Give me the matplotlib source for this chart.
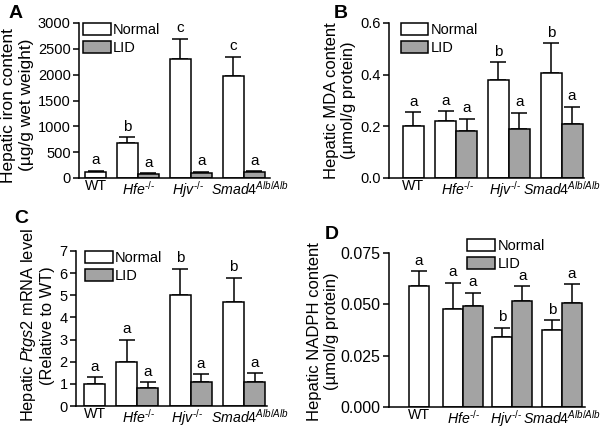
import matplotlib
matplotlib.use("Agg")
import matplotlib.pyplot as plt
from matplotlib.patches import Patch

plt.rcParams['font.family'] = ['Liberation Sans', 'DejaVu Sans']
plt.rcParams['mathtext.fontset'] = 'custom'
plt.rcParams['mathtext.rm'] = 'Liberation Sans'
plt.rcParams['mathtext.it'] = 'Liberation Sans:italic'
plt.rcParams['mathtext.bf'] = 'Liberation Sans:bold'

# ---------------- data ----------------
HY = '\u2010'
groups = ['WT',
          r'$\mathit{Hfe}^{\mathit{%s/%s}}$' % (HY, HY),
          r'$\mathit{Hjv}^{\mathit{%s/%s}}$' % (HY, HY),
          r'$\mathit{Smad4}^{\mathit{Alb/Alb}}$']

# Panel A: hepatic iron content
iron_normal = [115, 680, 2300, 1970]
iron_normal_err = [25, 110, 400, 380]
iron_lid = [None, 80, 105, 115]
iron_lid_err = [None, 8, 12, 12]
iron_letters_normal = ['a', 'b', 'c', 'c']
iron_letters_lid = [None, 'a', 'a', 'a']

# Panel B: MDA
mda_normal = [0.200, 0.222, 0.378, 0.405]
mda_normal_err = [0.055, 0.037, 0.071, 0.117]
mda_lid = [None, 0.180, 0.190, 0.210]
mda_lid_err = [None, 0.050, 0.062, 0.065]
mda_letters_normal = ['a', 'a', 'b', 'b']
mda_letters_lid = [None, 'a', 'a', 'a']

# Panel C: Ptgs2 mRNA
ptgs_normal = [1.0, 2.0, 5.0, 4.7]
ptgs_normal_err = [0.3, 1.0, 1.2, 1.1]
ptgs_lid = [None, 0.8, 1.1, 1.1]
ptgs_lid_err = [None, 0.28, 0.33, 0.37]
ptgs_letters_normal = ['a', 'a', 'b', 'b']
ptgs_letters_lid = [None, 'a', 'a', 'a']

# Panel D: NADPH
nadph_normal = [0.0590, 0.0479, 0.0342, 0.0373]
nadph_normal_err = [0.0070, 0.0126, 0.0044, 0.0050]
nadph_lid = [None, 0.0490, 0.0516, 0.0508]
nadph_lid_err = [None, 0.0066, 0.0073, 0.0089]
nadph_letters_normal = ['a', 'a', 'b', 'b']
nadph_letters_lid = [None, 'a', 'a', 'a']

GRAY = '#a3a3a3'
XTICK_FS = 10.2
LET_FS = 11
LEG_FS = 10.5

fig = plt.figure(figsize=(6.02, 4.29), dpi=100)


def panel(rect, normal, nerr, lid, lerr, ln, ll, xpos, label_shift, xlim,
          ylim, yticks, yticklabels, ylabel, ytick_fs, lab_fs, labelpad,
          label_y, leg_anchor, letter, letter_xy):
    ax = fig.add_axes(rect)
    w = 1.0
    for i in range(len(normal)):
        xn = xpos[i]
        ax.bar(xn, normal[i], width=w, color='white', edgecolor='black',
               linewidth=1.1, zorder=2)
        ax.errorbar(xn, normal[i], yerr=[[0], [nerr[i]]], fmt='none',
                    ecolor='black', elinewidth=1.1, capsize=6, capthick=1.1,
                    zorder=1)
        ax.annotate(ln[i], (xn, normal[i] + nerr[i]), xytext=(0, 2.5),
                    textcoords='offset points', ha='center', va='bottom',
                    fontsize=LET_FS)
        if lid[i] is not None:
            xl = xn + w
            ax.bar(xl, lid[i], width=w, color=GRAY, edgecolor='black',
                   linewidth=1.1, zorder=2)
            ax.errorbar(xl, lid[i], yerr=[[0], [lerr[i]]], fmt='none',
                        ecolor='black', elinewidth=1.1, capsize=6,
                        capthick=1.1, zorder=1)
            ax.annotate(ll[i], (xl, lid[i] + lerr[i]), xytext=(0, 2.5),
                        textcoords='offset points', ha='center', va='bottom',
                        fontsize=LET_FS)
    tickpos = [xpos[0]] + [p + 0.5 for p in xpos[1:]]
    tickpos = [t + s for t, s in zip(tickpos, label_shift)]
    ax.set_xticks(tickpos)
    ax.set_xticklabels(groups, fontsize=XTICK_FS)
    ax.set_xlim(*xlim)
    ax.set_ylim(*ylim)
    ax.set_yticks(yticks)
    ax.set_yticklabels(yticklabels, fontsize=ytick_fs)
    ax.tick_params(axis='x', length=0, pad=1)
    ax.tick_params(axis='y', length=4, width=1.1, pad=2, direction='out')
    for s in ['top', 'right']:
        ax.spines[s].set_visible(False)
    for s in ['left', 'bottom']:
        ax.spines[s].set_linewidth(1.1)
    ax.set_ylabel(ylabel, fontsize=lab_fs, linespacing=1.2,
                  labelpad=labelpad)
    ax.yaxis.label.set_y(label_y)
    handles = [Patch(facecolor='white', edgecolor='black', linewidth=1.1),
               Patch(facecolor=GRAY, edgecolor='black', linewidth=1.1)]
    ax.legend(handles, ['Normal', 'LID'], loc='upper left',
              bbox_to_anchor=leg_anchor, frameon=False, fontsize=LEG_FS,
              handlelength=1.9, handleheight=0.9, handletextpad=0.15,
              labelspacing=0.25, borderaxespad=0, borderpad=0)
    fig.text(letter_xy[0], letter_xy[1], letter, fontsize=14,
             fontweight='bold', ha='left', va='top')
    return ax


panel([79 / 602, 1 - 178 / 429, 191 / 602, 155 / 429],
      iron_normal, iron_normal_err, iron_lid, iron_lid_err,
      iron_letters_normal, iron_letters_lid,
      [0, 1.52, 4.04, 6.56], [0.0, 0.05, -0.15, 0.3], (-0.79, 8.31),
      (0, 3000), [0, 500, 1000, 1500, 2000, 2500, 3000],
      ['0', '500', '1000', '1500', '2000', '2500', '3000'],
      'Hepatic iron content\n(µg/g wet weight)', 10.5, 12.5, 3, 0.47,
      (0.02, 1.0), 'A', (9 / 602, 1 - 5 / 429))

panel([389 / 602, 1 - 178 / 429, 195 / 602, 155 / 429],
      mda_normal, mda_normal_err, mda_lid, mda_lid_err,
      mda_letters_normal, mda_letters_lid,
      [0, 1.55, 4.05, 6.58], [0.0, 0.05, -0.2, 0.02], (-1.17, 8.15),
      (0, 0.6), [0, 0.2, 0.4, 0.6], ['0.0', '0.2', '0.4', '0.6'],
      'Hepatic MDA content\n(µmol/g protein)', 10.5, 12, 3, 0.5,
      (0.06, 1.0), 'B', (334 / 602, 1 - 5 / 429))

panel([76 / 602, 1 - 406 / 429, 191 / 602, 155 / 429],
      ptgs_normal, ptgs_normal_err, ptgs_lid, ptgs_lid_err,
      ptgs_letters_normal, ptgs_letters_lid,
      [0, 1.52, 4.05, 6.6], [0.0, 0.05, -0.15, 0.3], (-0.9, 8.19),
      (0, 7), [0, 1, 2, 3, 4, 5, 6, 7],
      ['0', '1', '2', '3', '4', '5', '6', '7'],
      'Hepatic $\\mathit{Ptgs2}$ mRNA level\n(Relative to WT)', 10.5, 11.8,
      3, 0.52, (0.047, 1.0), 'C', (14 / 602, 1 - 210 / 429))

panel([389 / 602, 1 - 407 / 429, 196 / 602, 154 / 429],
      nadph_normal, nadph_normal_err, nadph_lid, nadph_lid_err,
      nadph_letters_normal, nadph_letters_lid,
      [0, 1.7, 4.17, 6.65], [0.0, 0.05, -0.3, -0.02], (-1.5, 8.3),
      (0, 0.075), [0, 0.025, 0.05, 0.075],
      ['0.000', '0.025', '0.050', '0.075'],
      'Hepatic NADPH content\n(µmol/g protein)', 11.5, 12, 1, 0.49,
      (0.40, 1.09), 'D', (325 / 602, 1 - 226 / 429))

fig.savefig('out.png', dpi=100)
